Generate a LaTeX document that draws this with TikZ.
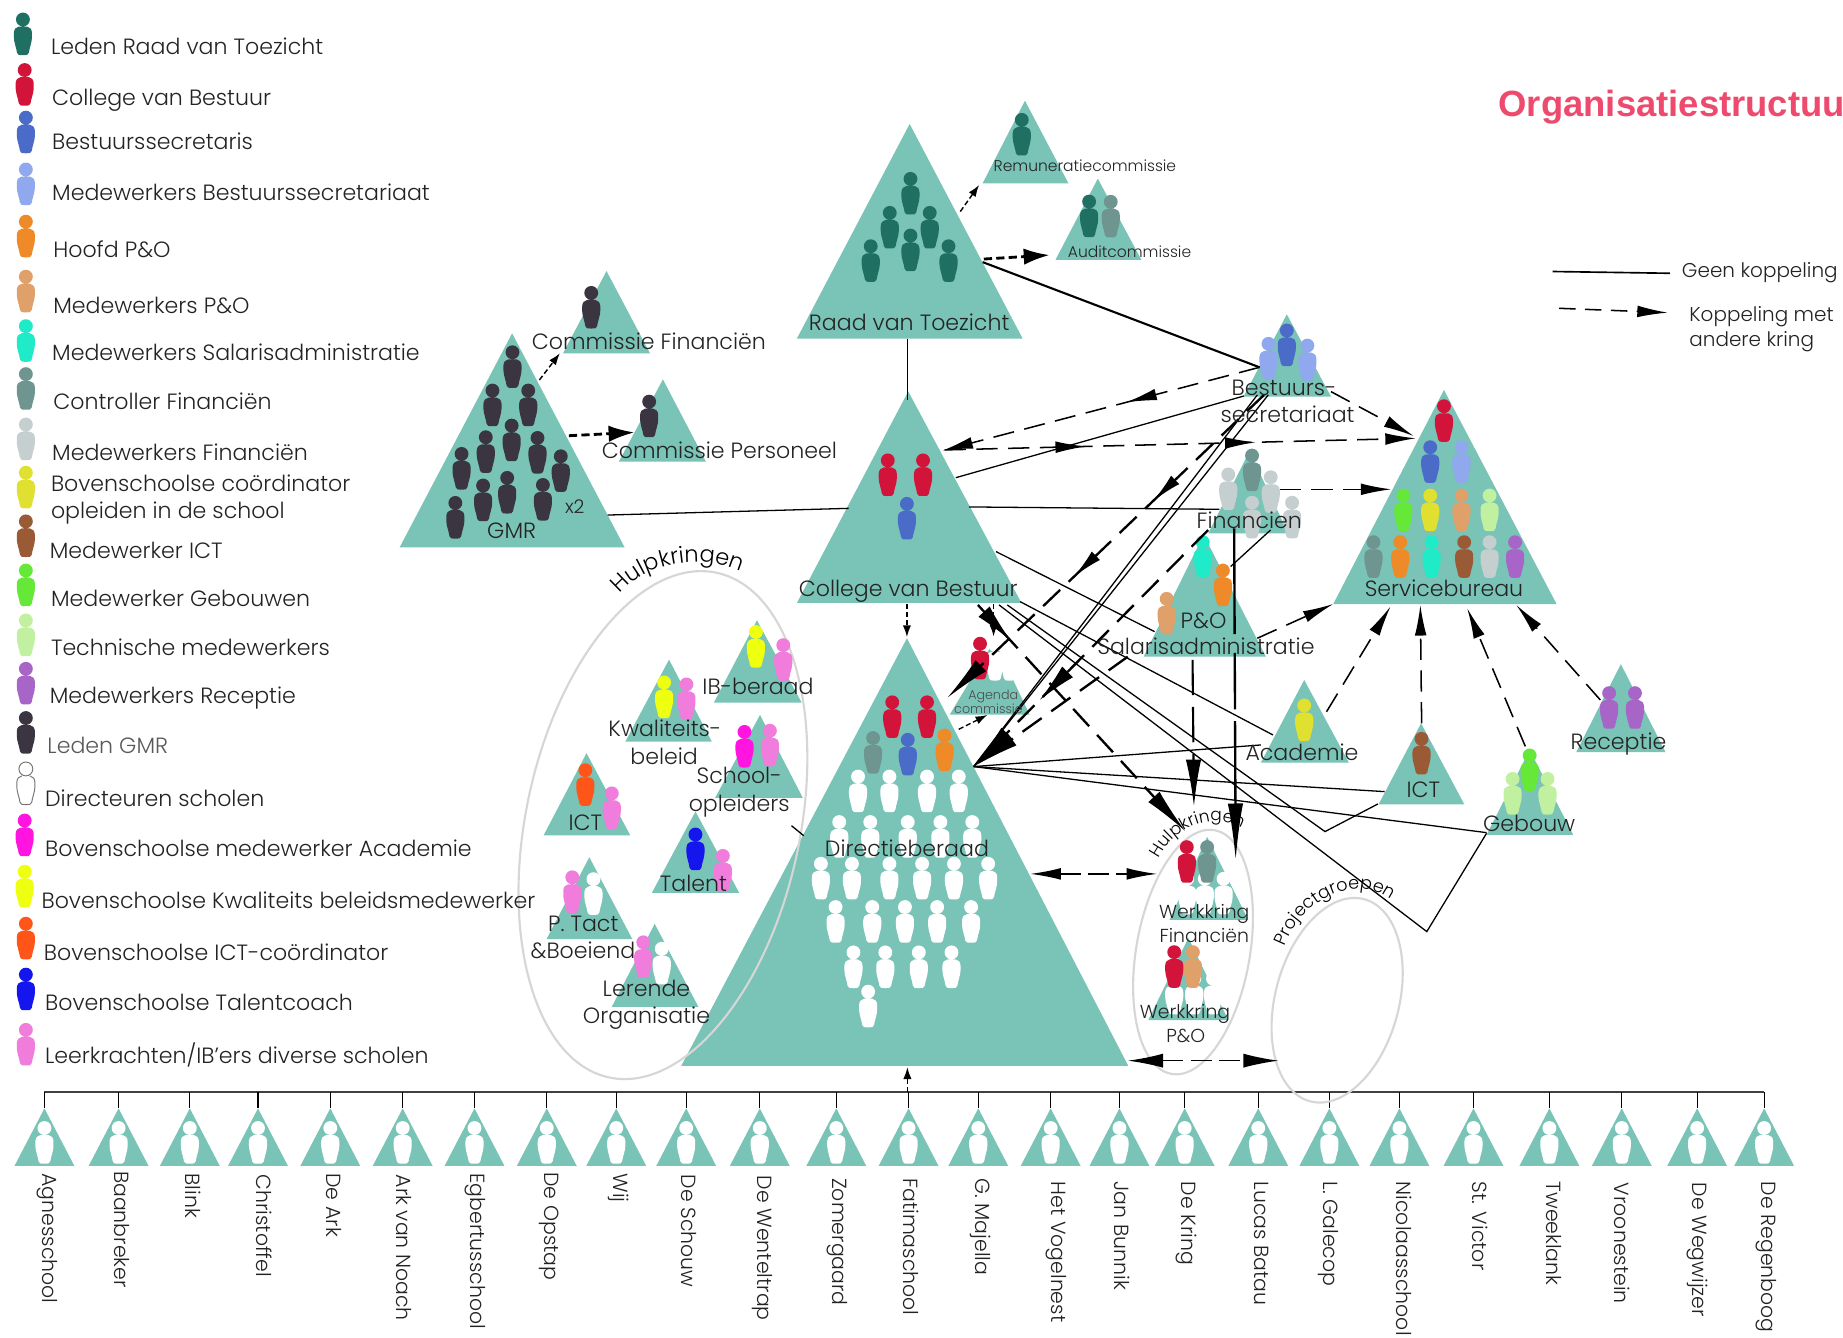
\documentclass[tikz,border=0pt]{standalone}
\usepackage{fontspec}
\setmainfont{Poppins Light}
\newfontfamily\titlefont{Liberation Sans}
\usetikzlibrary{arrows.meta,decorations.markings,decorations.text}
\definecolor{tealtri}{HTML}{7AC3B7}
\definecolor{cRvT}{HTML}{1F6F63}
\definecolor{cCol}{HTML}{D2143A}
\definecolor{cSec}{HTML}{4A6CC8}
\definecolor{cMBS}{HTML}{8FA8EE}
\definecolor{cHPO}{HTML}{EE8A28}
\definecolor{cMPO}{HTML}{DFA06A}
\definecolor{cSal}{HTML}{1FEBC8}
\definecolor{cCon}{HTML}{6F9590}
\definecolor{cMFi}{HTML}{C5CFCF}
\definecolor{cCoo}{HTML}{E0E030}
\definecolor{cICT}{HTML}{9A5A35}
\definecolor{cGeb}{HTML}{66E838}
\definecolor{cTec}{HTML}{C0F0A0}
\definecolor{cRec}{HTML}{A865C8}
\definecolor{cGMR}{HTML}{3A3540}
\definecolor{cAca}{HTML}{FF14E0}
\definecolor{cKwa}{HTML}{EFFF10}
\definecolor{cBIC}{HTML}{FF5518}
\definecolor{cTal}{HTML}{1515EE}
\definecolor{cLee}{HTML}{F07CDC}
\definecolor{cTitle}{HTML}{EE4A6E}
\definecolor{cEll}{HTML}{D6D6D6}
\definecolor{cTxt}{HTML}{232323}
\newcommand\fnorm{\fontsize{9.4}{11}\selectfont}
\newcommand\fschool{\fontsize{8.7}{11}\selectfont}
\newcommand\fmid{\fontsize{8}{10}\selectfont}
\newcommand\fkey{\fontsize{8.5}{10}\selectfont}
\newcommand\fsmall{\fontsize{6.6}{8}\selectfont}
\newcommand\ftiny{\fontsize{5.4}{6.5}\selectfont}
\newcommand\fcurve{\fontsize{9.6}{11}\selectfont}
\newcommand\fcurvb{\fontsize{7.2}{9}\selectfont}
\newcommand\fcurvc{\fontsize{7.5}{9}\selectfont}
\newcommand\prs[3]{%
  \fill[#3,shift={(#1,#2)}] (0,-12.3) circle[radius=5.9]
   (-3.5,-6.3) .. controls (-6,-6) and (-7.5,-4) .. (-7.7,-1) -- (-7.7,3)
   .. controls (-7.7,7) and (-5.5,12) .. (-5,16) .. controls (-4.9,18) and (-3,18) .. (0,18)
   .. controls (3,18) and (4.9,18) .. (5,16) .. controls (5.5,12) and (7.7,7) .. (7.7,3)
   -- (7.7,-1) .. controls (7.5,-4) and (6,-6) .. (3.5,-6.3) -- cycle;}
\newcommand\prss[2]{\foreach \px/\py in {#2}{\prs{\px}{\py}{#1}}}
\newcommand\tri[6]{%
  \coordinate (#1-t) at (#2,#3); \coordinate (#1-l) at (#4,#6); \coordinate (#1-r) at (#5,#6);
  \fill[tealtri] (#1-t) -- (#1-l) -- (#1-r) -- cycle;}
\newcommand\lab[5][]{\node[lbl,#1] (#2) at (#3,#4) {#5};}
\newcommand\leg[4][]{\node[lbl,anchor=west,#1] (#2) at #3 {#4};}
\newcommand\cnx[6][]{%
  \coordinate (#2-a) at (#3,#4); \coordinate (#2-b) at (#5,#6);
  \draw[#1] (#2-a) -- (#2-b);}
\tikzset{
  lbl/.style={inner sep=0pt,text=cTxt,font=\fnorm,text height=.72em,text depth=.2em,yshift=-.8pt},
  ell/.style={draw=cEll,line width=.9pt},
  sol/.style={black,line width=.55pt},
  solb/.style={black,line width=.9pt},
  kd/.style={black,line width=.65pt,dash pattern=on 9pt off 4.5pt,-{Latex[length=13pt,width=5pt]}},
  kdb/.style={black,line width=1pt,dash pattern=on 10pt off 5pt,-{Latex[length=20pt,width=6.5pt]}},
  dot/.style={black,line width=.6pt,dash pattern=on 2.2pt off 1.2pt,-{Latex[length=5pt,width=3.5pt]}},
  dotb/.style={black,line width=1.2pt,dash pattern=on 3.5pt off 1.8pt,-{Latex[length=11pt,width=7pt]}},
  twoway/.style={black,line width=.65pt,dash pattern=on 9pt off 3pt,{Latex[length=13pt,width=5pt]}-{Latex[length=13pt,width=5pt]}},
  mid/.style={postaction={decorate,decoration={markings,mark=at position #1 with {\arrow[solid]{Latex[length=13pt,width=5pt]}}}}},
  midb/.style={postaction={decorate,decoration={markings,mark=at position #1 with {\arrow[solid]{Latex[length=17pt,width=6.5pt]}}}}},
}
\begin{document}
\begin{tikzpicture}[x=.5pt,y=-.5pt]
\path[use as bounding box] (0,0) rectangle (1568,1138.3);
\clip (0,0) rectangle (1568,1138.3);
\fill[white] (0,0) rectangle (1568,1138.3);

% triangles
\tri{rvt}{773.9}{105.5}{678}{870}{288}
\tri{rem}{872}{85.7}{836}{909}{156}
\tri{aud}{934}{152}{898}{971}{221}
\tri{cvb}{772.7}{333}{678}{869}{513}
\tri{gmr}{435.7}{283.6}{340}{531.4}{465.7}
\tri{cfi}{516}{230.6}{479}{553}{300.6}
\tri{cpe}{564}{322.8}{526.5}{600.6}{392.8}
\tri{dir}{771.6}{543}{579.6}{959.9}{906.8}
\tri{bes}{1094.8}{267.4}{1058}{1132.4}{337.5}
\tri{fin}{1063}{384}{1028}{1096}{453.7}
\tri{pno}{1024}{455}{973}{1077}{558.7}
\tri{svc}{1228.5}{331.8}{1134.3}{1324.3}{513.9}
\tri{aca}{1109.6}{578.5}{1072.7}{1147.6}{648.9}
\tri{ict}{1209}{615.4}{1172.9}{1245.8}{684.3}
\tri{geb}{1301.4}{638}{1264.7}{1338.5}{710.4}
\tri{rcp}{1379}{565}{1341}{1417}{640}
\tri{age}{846}{545}{808}{876}{608}
\tri{ibb}{644}{527.8}{607.4}{682}{597.7}
\tri{kwa}{569.2}{561.2}{532}{605.6}{631}
\tri{sch}{646.6}{608.3}{608.4}{683}{678.8}
\tri{hic}{499}{640.8}{462.5}{536.2}{710.7}
\tri{tal}{591.7}{690.4}{554.6}{628.9}{759.6}
\tri{pta}{501.4}{729.3}{465}{537.9}{798.9}
\tri{ler}{557}{786}{520.5}{594.2}{856.6}
\tri{wfi}{1027}{712}{995}{1062}{782.7}
\tri{wpo}{1011}{798}{977}{1045}{867.8}

% school row
\coordinate (barL) at (37.8,929); \coordinate (barR) at (1500.9,929);
\draw[black!75,line width=.8pt] (barL) -- (barR);
\foreach \n/\x/\lx/\ly/\t in {
 1/37.8/39.4/998/Agnesschool,2/100.9/101/996/Baanbreker,3/161.5/161.5/998/Blink,4/219.5/222/999/Christoffel,
 5/281/281.6/998/De Ark,6/342.6/340.6/999/Ark van Noach,7/403.7/403.7/998/Egbertusschool,8/465.2/466.8/997/De Opstap,
 9/524.3/525.8/998/Wij,10/583.8/583.8/999/De Schouw,11/646.4/648.4/1000/De Wenteltrap,12/711.5/711.5/1002/Zomergaard,
 13/773/772/1002/Fatimaschool,14/832.3/833.8/1002/G. Majella,15/893.9/897.9/1005/Het Vogelnest,16/952.4/951.9/1005/Jan Bunnik,
 17/1007.9/1008.9/1005/De Kring,18/1070.5/1070.5/1005/Lucas Batau,19/1131/1130/1005/L. Galecop,20/1190.6/1191.6/1005/Nicolaasschool,
 21/1253.6/1256/1005/St. Victor,22/1318.2/1319.2/1005/Tweeklank,23/1379.8/1377.3/1006/Vroonestein,24/1443.9/1443.9/1006/De Wegwijzer,
 25/1500.9/1502.4/1005/De Regenboog}{
  \pgfmathsetmacro\xl{\x-25.5}\pgfmathsetmacro\xr{\x+25.5}
  \tri{s\n}{\x}{943}{\xl}{\xr}{992}
  \coordinate (tick\n) at (\x,929);
  \draw[sol] (tick\n) -- (s\n-t);
  \prs{\x}{972}{white}
  \node[lbl,font=\fschool,rotate=-90,anchor=west,yshift=.8pt,xshift=-.8pt] (school\n) at (\lx,\ly) {\t};
}

% ellipses
\draw[ell,rotate around={-12:(564,702)}] (564,702) ellipse[x radius=116.6,y radius=219.5];
\draw[ell,rotate around={-10:(1015,810)}] (1015,810) ellipse[x radius=48.3,y radius=105.3];
\draw[ell,rotate around={-15:(1137.6,851)}] (1137.6,851) ellipse[x radius=52.6,y radius=89];

% people in triangles
\prss{cRvT}{774.6/164.5,757/193.4,791/193.4,774.6/212.7,740.8/221.8,807/221.8,869.3/114.3,926.6/183.8}
\prs{945}{184}{cCon}
\prss{cGMR}{503/261.5,552.3/354,436/312,419/344.6,449.4/344.6,435.3/374.4,413.3/384.3,457.3/384.9,392.7/398.5,477.1/400.5,411/425.4,431.5/418.9,461.9/424.9,387.4/440.2}
\prss{cCol}{755.3/404,785.3/404}
\prs{771.6}{441}{cSec}
% directieberaad
\prss{white}{730/673,756.7/673,788.7/673,815.7/673,714/711.7,740.4/711.7,772.3/711.7,800.1/711.7,827.2/711.7,698.4/747.2,724.8/747.2,756.7/747.2,784.5/747.2,811.6/747.2,840.7/747.2,710.9/784,742.1/784,769.9/784,797.3/784,826.2/784,726.1/822.6,753.2/822.6,781.7/822.6,809.5/822.6,738.6/856}
\prss{cCol}{759.1/609.8,788.7/609.8}
\prs{742.8}{640.2}{cCon}
\prs{772.3}{641.7}{cSec}
\prs{803.6}{638}{cHPO}
% hulpkringen
\prs{643.1}{550}{cKwa}\prs{666.4}{561.2}{cLee}
\prs{565}{593}{cKwa}\prs{584}{594.6}{cLee}
\prs{633.4}{635}{cAca}\prs{655}{634}{cLee}
\prs{498}{667.6}{cBIC}\prs{520.5}{687.3}{cLee}
\prs{591.7}{722.3}{cTal}\prs{615}{740.5}{cLee}
\prs{504.9}{760.3}{white}\prs{486.9}{758.7}{cLee}
\prs{563}{819.5}{white}\prs{547.3}{814}{cLee}
% agenda
\prss{white}{846.5/561,859/561,869/561}\prs{833.8}{560}{cCol}
% bestuurssecretariaat
\prss{cMBS}{1079.2/304.8,1112.3/306.3}\prs{1094.8}{293.5}{cSec}
% financien
\prss{cMFi}{1045/416,1081.1/418.3,1065.2/440,1099.3/440}\prs{1065.2}{399.9}{cCon}
% p&o
\prs{1023.3}{473.6}{cSal}\prs{1040.4}{497.7}{cHPO}\prs{992.6}{521.8}{cMPO}
% servicebureau
\prs{1228.5}{357.9}{cCol}\prs{1216.8}{392.8}{cSec}\prs{1243.4}{392.8}{cMBS}
\prs{1194}{433.9}{cGeb}\prs{1216.8}{433.9}{cCoo}\prs{1243.4}{433.9}{cMPO}\prs{1267.3}{433.9}{cTec}
\prs{1168.5}{473.6}{cCon}\prs{1191.3}{473.6}{cHPO}\prs{1218}{473.6}{cSal}\prs{1245.7}{473.6}{cICT}\prs{1267.3}{473.6}{cMFi}\prs{1289}{473.6}{cRec}
% others
\prs{1109.6}{612.5}{cCoo}
\prs{1209.4}{640.9}{cICT}
\prss{cTec}{1286.9/675,1316.6/675}\prs{1301.4}{655}{cGeb}
\prss{cRec}{1369/602,1391/602}
% werkkringen
\prss{white}{1010/760,1025/760,1041/760}\prs{1009.7}{733}{cCol}\prs{1027}{733}{cCon}
\prss{white}{999/845,1016/845,1032/845}\prs{999}{822.4}{cCol}\prs{1014.9}{822.4}{cMPO}

% legend people
\prs{19.5}{28.9}{cRvT}\prs{21}{71.9}{cCol}\prs{22}{112.4}{cSec}\prs{22}{156.5}{cMBS}
\prs{22}{200.9}{cHPO}\prs{22}{247.7}{cMPO}\prs{22}{289.8}{cSal}\prs{22}{330.6}{cCon}
\prs{22}{373.5}{cMFi}\prs{22}{414.5}{cCoo}\prs{22}{455.9}{cICT}\prs{22}{497.7}{cGeb}
\prs{22}{540.2}{cTec}\prs{22}{581.3}{cRec}\prs{22}{623.2}{cGMR}
\prs{22}{666.5}{white}
\draw[black!55,line width=.4pt,shift={(22,666.5)}] (0,-12.3) circle[radius=5.9]
   (-3.5,-6.3) .. controls (-6,-6) and (-7.5,-4) .. (-7.7,-1) -- (-7.7,3)
   .. controls (-7.7,7) and (-5.5,12) .. (-5,16) .. controls (-4.9,18) and (-3,18) .. (0,18)
   .. controls (3,18) and (4.9,18) .. (5,16) .. controls (5.5,12) and (7.7,7) .. (7.7,3)
   -- (7.7,-1) .. controls (7.5,-4) and (6,-6) .. (3.5,-6.3);
\prs{21}{710.4}{cAca}\prs{21}{753.9}{cKwa}\prs{22}{798.2}{cBIC}\prs{22}{841.5}{cTal}\prs{22}{888.5}{cLee}

% connectors
\cnx[sol]{c1}{772}{288}{772}{340}
\cnx[solb]{c2}{836}{223}{1071.6}{312.5}
\cnx[dot]{c3}{817}{180}{833}{157.4}
\cnx[dotb]{c4}{837}{220.4}{893}{217}
\cnx[dot]{c5}{458.9}{323.3}{476.3}{300.6}
\cnx[dotb]{c6}{484}{370.7}{539.8}{367.9}
\cnx[sol]{c7}{517}{438.2}{722}{432.5}
\cnx[kd,mid=.42]{c8}{1071.6}{312.5}{801.8}{383.4}
\cnx[kd,mid=.3,mid=.66]{c9}{803.7}{382.8}{1204.6}{372.9}
\cnx[sol]{c10}{813.2}{406.4}{1058.3}{336.9}
\cnx[kd]{c11}{1132.4}{333.2}{1202.7}{371}
\cnx[sol]{c12}{824.6}{431.3}{1037.4}{433.3}
\cnx[kd]{c13}{1088.7}{416.3}{1183.7}{416.3}
\cnx[kdb,mid=.35,mid=.6]{c14}{1075.4}{336}{805.6}{594}
\cnx[kdb,midb=.72]{c15}{1027.9}{450.9}{828.4}{652.2}
\cnx[kdb]{c16}{959.5}{558.7}{828.4}{652.2}
\cnx[sol]{c17}{1069.7}{336}{828.4}{652.2}
\cnx[sol]{c18}{1079}{336}{828.4}{652.2}
\cnx[sol]{c19}{828.4}{652.2}{1072.7}{633.8}
\cnx[sol]{c20}{828.4}{652.2}{1178}{673.5}
\cnx[sol]{c21}{828.4}{652.2}{1264.7}{708.4}
\cnx[sol]{c22}{1081}{450.9}{1047}{482}
\cnx[black,line width=1pt,dash pattern=on 45pt off 8pt on 24pt off 5pt,-{Latex[length=24pt,width=6.5pt]}]{c23}{1050}{449.5}{1051.3}{731.6}
\cnx[black,line width=.9pt,dash pattern=on 15pt off 5pt,-{Latex[length=20pt,width=6.5pt]}]{c24}{1014.6}{561.5}{1015.8}{686.3}
\cnx[kdb,midb=.16]{c25}{832}{514.7}{1008.8}{707.5}
\cnx[dot]{c26}{771.6}{514}{771.6}{542}
\cnx[dot]{c27}{845.3}{514}{845.3}{541.5}
\cnx[dot]{c28}{815.7}{620.5}{840}{608.3}
\cnx[dot]{c29}{772}{929}{772}{908}
\cnx[twoway]{c30}{876.5}{743.5}{984.5}{743.5}
\cnx[twoway,{Latex[length=15pt,width=6pt]}-{Latex[length=15pt,width=6pt]}]{c31}{959.5}{902.4}{1087.8}{902.4}
\cnx[sol]{c32}{673.4}{702.5}{683.8}{711}
\cnx[sol]{c33}{847.4}{469.3}{982.3}{537.4}
\cnx[sol]{c34}{868}{511.9}{1083}{625.3}
\coordinate (c35-a) at (857,514.7); \coordinate (c35-m) at (1127.3,707.5); \coordinate (c35-b) at (1172.3,684);
\draw[sol] (c35-a) -- (c35-m) -- (c35-b);
\coordinate (c36-a) at (850,514.7); \coordinate (c36-m) at (1213.9,792.6); \coordinate (c36-b) at (1264.7,709);
\draw[sol] (c36-a) -- (c36-m) -- (c36-b);
\cnx[kd]{c37}{1128.6}{605.5}{1183}{516}
\cnx[kd]{c38}{1209.5}{615.4}{1208.4}{514.7}
\cnx[kd]{c39}{1297.7}{635}{1248.3}{517.6}
\cnx[kd]{c40}{1361.5}{595.5}{1290}{514.7}
\cnx[kd]{c41}{1069.7}{543}{1134.3}{513.9}
\cnx[sol,line width=.7pt]{k1}{1320.9}{231}{1420.7}{232.5}
\cnx[kd,dash pattern=on 7pt off 4pt]{k2}{1326.5}{262.3}{1419}{266}

% title
\node[inner sep=0pt,anchor=west,text=cTitle] (title) at (1274.6,91)
  {\titlefont\bfseries\fontsize{15.5}{18}\selectfont Organisatiestructuu};

% legend texts
\leg{l1}{(43,40)}{Leden Raad van Toezicht}
\leg{l2}{(44,83)}{College van Bestuur}
\leg{l3}{(44,120)}{Bestuurssecretaris}
\leg{l4}{(44,164)}{Medewerkers Bestuurssecretariaat}
\leg{l5}{(45,212)}{Hoofd P\&O}
\leg{l6}{(45,260)}{Medewerkers P\&O}
\leg{l7}{(44,300)}{Medewerkers Salarisadministratie}
\leg{l8}{(45,342)}{Controller Financiën}
\leg{l9}{(44,385)}{Medewerkers Financiën}
\leg{l10}{(43,411)}{Bovenschoolse coördinator}
\leg{l10b}{(43,434)}{opleiden in de school}
\leg{l11}{(42,468)}{Medewerker ICT}
\leg{l12}{(43,509)}{Medewerker Gebouwen}
\leg{l13}{(43,551)}{Technische medewerkers}
\leg{l14}{(42,592)}{Medewerkers Receptie}
\leg[text=black!65]{l15}{(40,634)}{Leden GMR}
\leg{l16}{(38,679)}{Directeuren scholen}
\leg{l17}{(38,722)}{Bovenschoolse medewerker Academie}
\leg{l18}{(35,766)}{Bovenschoolse Kwaliteits beleidsmedewerker}
\leg{l19}{(37,810)}{Bovenschoolse ICT-coördinator}
\leg{l20}{(38,853)}{Bovenschoolse Talentcoach}
\leg{l21}{(38,898)}{Leerkrachten/IB'ers diverse scholen}
\leg[font=\fkey]{g1}{(1430.6,229.7)}{Geen koppeling}
\leg[font=\fkey]{g2}{(1436.9,267)}{Koppeling met}
\leg[font=\fkey]{g3}{(1436.9,287.8)}{andere kring}

% triangle labels
\lab{t1}{773.5}{274.6}{Raad van Toezicht}
\lab[font=\fsmall]{t2}{923}{139.5}{Remuneratiecommissie}
\lab[font=\fsmall]{t3}{961}{212.5}{Auditcommissie}
\lab{t4}{552}{290.7}{Commissie Financiën}
\lab{t5}{612}{382.9}{Commissie Personeel}
\lab{t6}{435.3}{451.5}{GMR}
\lab[font=\fmid]{t7}{489}{430.5}{x2}
\lab{t8}{772.7}{501}{College van Bestuur}
\lab{t9}{771.6}{722.3}{Directieberaad}
\lab{t10}{1092.5}{330}{Bestuurs-}
\lab{t11}{1095.5}{353}{secretariaat}
\lab{t12}{1062.9}{443}{Financien}
\lab{t13}{1024}{527.5}{P\&O}
\lab{t14}{1026}{550}{Salarisadministratie}
\lab{t15}{1228.5}{501}{Servicebureau}
\lab{t16}{1107.7}{640}{Academie}
\lab{t17}{1211}{672}{ICT}
\lab{t18}{1301}{701}{Gebouw}
\lab{t19}{1377}{631}{Receptie}
\lab{t20}{644.9}{584}{IB-beraad}
\lab{t21}{565.7}{619.9}{Kwaliteits-}
\lab{t22}{565}{643.3}{beleid}
\lab{t23}{628.9}{660}{School-}
\lab{t24}{628.9}{683.7}{opleiders}
\lab{t25}{498}{699.5}{ICT}
\lab{t26}{590}{751.7}{Talent}
\lab{t27}{496.2}{786}{P. Tact}
\lab{t28}{496}{808.9}{\&Boeiend}
\lab{t29}{550}{840.8}{Lerende}
\lab{t30}{550}{864.2}{Organisatie}
\lab[font=\ftiny,text=black!70]{t31}{845}{588.6}{Agenda}
\lab[font=\ftiny,text=black!70]{t32}{841}{600}{commissie}
\lab[font=\fmid]{t33}{1024.6}{775}{Werkkring}
\lab[font=\fmid]{t34}{1024.6}{795}{Financiën}
\lab[font=\fmid]{t35}{1008.2}{860}{Werkkring}
\lab[font=\fmid]{t36}{1008.8}{880}{P\&O}

% curved captions
\coordinate (hk1a) at (520,516); \coordinate (hk1b) at (642,492);
\path[decorate,decoration={text along path,text align=center,text={|\fcurve\color{black}|Hulpkringen}}]
  (hk1a) .. controls (540,478) and (600,466) .. (hk1b);
\coordinate (hk2a) at (984.5,733); \coordinate (hk2b) at (1059,706);
\path[decorate,decoration={text along path,text align=center,text={|\fcurvb\color{black}|Hulpkringen}}]
  (hk2a) .. controls (1000,700) and (1035,690) .. (hk2b);
\coordinate (pg1a) at (1088,822); \coordinate (pg1b) at (1196,778);
\path[decorate,decoration={text along path,text align=center,text={|\fcurvc\color{black}|Projectgroepen}}]
  (pg1a) .. controls (1100,760) and (1165,735) .. (pg1b);
\end{tikzpicture}
\end{document}
